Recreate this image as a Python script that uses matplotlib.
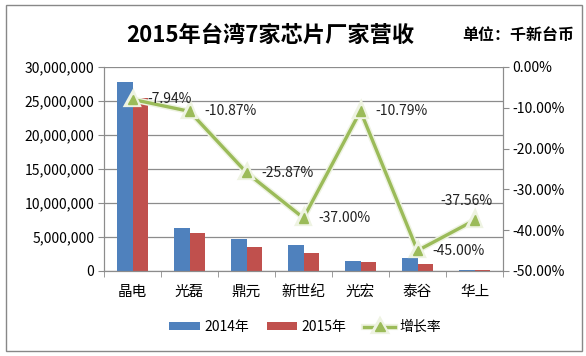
import matplotlib
matplotlib.use("Agg")
import matplotlib.pyplot as plt
import matplotlib.patheffects as pe
from matplotlib.ticker import FuncFormatter, FixedLocator
from matplotlib.patches import Rectangle
import numpy as np

plt.rcParams['font.family'] = ['Noto Sans CJK SC', 'DejaVu Sans']

categories = ["晶电", "光磊", "鼎元", "新世纪", "光宏", "泰谷", "华上"]
rev_2014 = [27800000, 6300000, 4700000, 3820000, 1500000, 1900000, 180000]
rev_2015 = [25400000, 5600000, 3550000, 2600000, 1370000, 1060000, 110000]
growth = [-7.94, -10.87, -25.87, -37.00, -10.79, -45.00, -37.56]
growth_labels = ["-7.94%", "-10.87%", "-25.87%", "-37.00%", "-10.79%", "-45.00%", "-37.56%"]
series_names = ["2014年", "2015年", "增长率"]

fig = plt.figure(figsize=(5.86, 3.56), dpi=100)
ax = fig.add_axes([104/586, 1-271/356, (503-104)/586, (271-67)/356])
ax2 = ax.twinx()

x = np.arange(len(categories))
w = 0.28
blue = "#4F81BD"
red = "#C0504D"
green = "#9BBB59"
b1 = ax.bar(x - w/2, rev_2014, w, color=blue, zorder=2, label=series_names[0])
b2 = ax.bar(x + w/2, rev_2015, w, color=red, zorder=2, label=series_names[1])

ax.set_xlim(-0.5, len(categories) - 0.5)
ax.set_ylim(0, 30000000)
ax.set_yticks(np.arange(0, 30000001, 5000000))
ax.yaxis.set_major_formatter(FuncFormatter(lambda v, p: f"{int(v):,}"))
ax.grid(axis='y', color='#8C8C8C', linewidth=0.9, zorder=0)
ax.set_axisbelow(True)
ax.set_xticks(x)
ax.set_xticklabels(categories, fontsize=10.5)
ax.xaxis.set_minor_locator(FixedLocator(np.arange(-0.5, len(categories), 1)))
ax.tick_params(axis='x', which='major', length=0, pad=10)
ax.tick_params(axis='x', which='minor', length=4, color='#8C8C8C', direction='out')
ax.tick_params(axis='y', length=4, color='#8C8C8C', labelsize=10, pad=3)
for s in ['top']:
    ax.spines[s].set_visible(False)
    ax2.spines[s].set_visible(False)
for s in ['left', 'bottom', 'right']:
    ax.spines[s].set_color('#8C8C8C')
    ax2.spines[s].set_color('#8C8C8C')

ax2.set_ylim(-50, 0)
ax2.set_yticks(np.arange(-50, 0.1, 10))
ax2.yaxis.set_major_formatter(FuncFormatter(lambda v, p: f"{v:.2f}%" if abs(v) > 1e-9 else "0.00%"))
ax2.tick_params(axis='y', length=4, color='#8C8C8C', labelsize=10, pad=3)

line, = ax2.plot(x, growth, color=green, linewidth=2.4, marker='^', markersize=7,
                 markerfacecolor=green, markeredgecolor=green, zorder=5, label=series_names[2],
                 path_effects=[pe.Stroke(linewidth=4.5, foreground='#EEF3E2'), pe.Normal()])

offsets = [(11, 0, 'left', 'center')] * 6 + [(-6, 14, 'center', 'center')]
for xi, gi, lab, (dx, dy, ha, va) in zip(x, growth, growth_labels, offsets):
    ax2.annotate(lab, (xi, gi), xytext=(dx, dy), textcoords='offset points',
                 ha=ha, va=va, fontsize=10, color='#222222', zorder=6)

fig.text(270/586, 1-35/356, "2015年台湾7家芯片厂家营收", fontsize=16, fontweight='bold',
         ha='center', va='center')
fig.text(574/586, 1-35/356, "单位：千新台币", fontsize=11.5, fontweight='bold',
         ha='right', va='center')

fig.legend(handles=[b1, b2, line], labels=series_names, loc='center',
           bbox_to_anchor=(305/586, 1-327/356), ncol=3, frameon=False, fontsize=10,
           handlelength=2.2, handleheight=0.5, columnspacing=1.3, handletextpad=0.3)

fig.patches.append(Rectangle((6/586, 5/356), 576/586, 346/356, transform=fig.transFigure,
                             fill=False, edgecolor='#888888', linewidth=1))

fig.savefig("out.png", dpi=100)
